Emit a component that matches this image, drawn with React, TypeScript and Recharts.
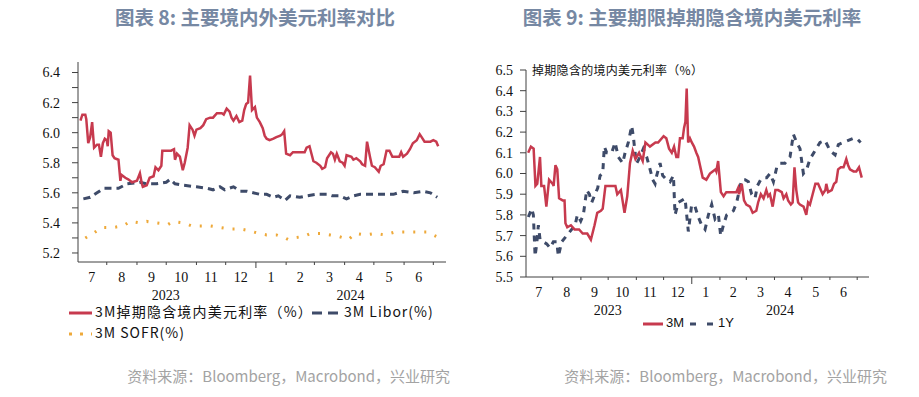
import React from 'react';
import { LineChart, Line, XAxis, YAxis } from 'recharts';

// x values are days since 2023-07-01
const leftRate3M: [number, number][] = [
  [4, 6.08], [6, 6.12], [9, 6.12], [10, 6.09], [12, 5.93], [14, 5.97], [16, 6.07], [18, 5.9], [21, 5.92], [23, 5.92],
  [25, 5.84], [27, 5.93], [29, 5.96], [31, 5.95], [32, 5.91], [33, 6.01], [35, 6.0], [37, 5.85], [39, 5.83], [43, 5.82],
  [45, 5.68], [46, 5.72], [50, 5.7], [53, 5.69], [57, 5.67], [62, 5.68], [65, 5.73], [67, 5.66], [68, 5.64], [72, 5.65],
  [75, 5.7], [79, 5.71], [81, 5.77], [84, 5.75], [87, 5.78], [88, 5.88], [92, 5.88], [97, 5.88], [100, 5.89], [101, 5.82],
  [103, 5.86], [106, 5.84], [109, 5.75], [111, 5.8], [114, 5.9], [116, 6.05], [119, 6.02], [121, 5.98], [123, 6.02], [127, 6.03],
  [130, 6.05], [133, 6.09], [137, 6.1], [140, 6.1], [144, 6.13], [149, 6.13], [151, 6.12], [154, 6.16], [157, 6.14], [159, 6.1],
  [161, 6.08], [164, 6.11], [167, 6.07], [170, 6.08], [172, 6.15], [174, 6.19], [176, 6.2], [178, 6.38], [180, 6.15], [183, 6.17],
  [185, 6.1], [188, 6.07], [191, 6.03], [193, 5.98], [195, 5.96], [198, 5.95], [202, 5.96], [205, 5.97], [209, 5.98], [211, 5.99],
  [213, 6.01], [215, 5.86], [219, 5.85], [222, 5.87], [229, 5.87], [234, 5.87], [236, 5.9], [239, 5.91], [241, 5.86], [243, 5.81],
  [246, 5.8], [250, 5.78], [252, 5.76], [255, 5.77], [257, 5.83], [261, 5.87], [263, 5.86], [265, 5.82], [267, 5.86], [270, 5.81],
  [273, 5.8], [275, 5.78], [277, 5.85], [282, 5.84], [284, 5.82], [287, 5.83], [291, 5.81], [293, 5.79], [296, 5.78], [298, 5.94],
  [301, 5.84], [303, 5.78], [306, 5.77], [310, 5.74], [312, 5.78], [315, 5.79], [318, 5.88], [321, 5.88], [324, 5.84], [328, 5.84],
  [331, 5.84], [333, 5.87], [335, 5.84], [339, 5.86], [342, 5.89], [345, 5.93], [349, 5.95], [352, 5.99], [354, 5.97], [357, 5.94],
  [363, 5.94], [366, 5.95], [369, 5.94], [371, 5.91],
];

const leftLibor3M: [number, number][] = [
  [7, 5.56], [14, 5.57], [21, 5.6], [28, 5.63], [36, 5.63], [43, 5.63], [52, 5.66], [65, 5.67], [72, 5.66], [82, 5.66],
  [92, 5.67], [96, 5.69], [101, 5.66], [110, 5.65], [123, 5.64], [134, 5.63], [140, 5.62], [147, 5.64], [152, 5.62], [161, 5.64],
  [168, 5.61], [175, 5.61], [188, 5.59], [195, 5.59], [202, 5.57], [207, 5.58], [214, 5.55], [219, 5.58], [229, 5.57], [236, 5.58],
  [246, 5.59], [257, 5.59], [262, 5.58], [270, 5.58], [277, 5.56], [284, 5.58], [291, 5.59], [304, 5.59], [318, 5.59], [325, 5.59],
  [335, 5.61], [346, 5.6], [356, 5.61], [363, 5.6], [370, 5.57],
];

const leftSofr3M: [number, number][] = [
  [9, 5.3], [17, 5.33], [26, 5.37], [38, 5.37], [48, 5.38], [55, 5.41], [65, 5.4], [72, 5.41], [82, 5.4], [94, 5.39],
  [99, 5.41], [110, 5.4], [118, 5.38], [127, 5.38], [137, 5.38], [147, 5.37], [157, 5.36], [168, 5.36], [176, 5.35], [187, 5.33],
  [195, 5.32], [205, 5.32], [214, 5.3], [217, 5.29], [222, 5.3], [233, 5.31], [240, 5.33], [250, 5.33], [260, 5.32], [269, 5.31],
  [279, 5.29], [286, 5.33], [296, 5.32], [306, 5.33], [316, 5.32], [327, 5.34], [337, 5.34], [349, 5.34], [359, 5.34], [369, 5.31],
];

const rightRate3M: [number, number][] = [
  [4, 6.1], [7, 6.13], [10, 6.12], [12, 5.94], [14, 5.95], [17, 6.08], [18.5, 5.94], [21.5, 5.94], [24, 5.84], [27, 5.97],
  [31, 5.95], [32, 5.94], [34, 6.04], [36, 6.02], [38, 5.88], [42, 5.87], [44, 5.87], [45, 5.76], [47, 5.74], [51, 5.75],
  [55, 5.73], [60, 5.73], [64, 5.71], [69, 5.71], [73, 5.68], [77, 5.75], [80, 5.81], [84, 5.82], [86, 5.83], [89, 5.94],
  [95, 5.94], [100, 5.94], [102, 5.9], [106, 5.92], [110, 5.81], [113, 5.89], [116, 6.05], [119, 6.11], [122, 6.07], [126, 6.1],
  [130, 6.06], [133, 6.15], [138, 6.13], [144, 6.15], [147, 6.15], [153, 6.18], [156, 6.17], [159, 6.12], [162, 6.1], [164.5, 6.13],
  [167, 6.08], [169, 6.08], [171, 6.17], [174, 6.17], [175.5, 6.22], [177, 6.25], [178.4, 6.41], [180, 6.15], [182, 6.17], [184, 6.15],
  [186.5, 6.13], [189, 6.1], [191, 6.08], [194, 6.02], [196, 5.98], [200, 5.97], [204, 6.0], [207, 6.01], [210, 6.02], [211, 6.01],
  [213, 6.06], [216, 5.91], [219, 5.89], [222, 5.91], [230, 5.91], [233, 5.91], [235, 5.93], [236, 5.9], [239, 5.95], [241.5, 5.87],
  [244, 5.85], [248, 5.84], [251, 5.81], [255, 5.82], [257, 5.86], [260, 5.9], [263, 5.88], [266, 5.92], [268, 5.89], [270, 5.9],
  [273, 5.84], [276, 5.92], [279, 5.92], [283, 5.91], [285, 5.88], [288, 5.9], [290, 5.87], [293, 5.85], [295, 5.86], [297, 6.03],
  [299, 5.92], [301, 5.86], [303, 5.85], [307, 5.84], [310, 5.8], [312, 5.86], [314, 5.85], [317, 5.9], [320, 5.95], [323, 5.95],
  [326, 5.92], [328, 5.9], [331, 5.92], [332, 5.95], [334, 5.91], [338, 5.92], [340.5, 5.95], [343, 5.96], [345, 6.02], [348, 6.03],
  [351, 6.03], [354, 6.07], [356, 6.04], [358, 6.02], [362, 6.01], [365, 6.01], [368, 6.03], [371, 5.98],
];

const rightRate1Y: [number, number][] = [
  [4.2, 5.79], [7.9, 5.83], [9.7, 5.8], [11.6, 5.6], [13.4, 5.66], [15.2, 5.75], [17.1, 5.68], [20.7, 5.67], [24.4, 5.66], [28.1, 5.64],
  [31.7, 5.67], [35.4, 5.67], [37.2, 5.6], [40.9, 5.67], [44.6, 5.69], [48.2, 5.71], [51.9, 5.73], [55.6, 5.75], [58.1, 5.8], [61.8, 5.77],
  [64.7, 5.8], [68.4, 5.92], [71.3, 5.9], [73.9, 5.86], [77.6, 5.9], [80.5, 5.93], [83.1, 5.99], [86, 6.0], [87.8, 6.13], [90.4, 6.1],
  [95.9, 6.1], [99.6, 6.15], [103.2, 6.08], [108, 6.05], [110.6, 6.1], [114.2, 6.15], [117.9, 6.23], [119.7, 6.18], [121.6, 6.1], [123.4, 6.05],
  [127.1, 6.08], [130.7, 6.12], [134.4, 6.08], [138.1, 6.02], [141, 5.97], [143.6, 5.95], [145.4, 5.99], [149.1, 6.05], [152, 5.99], [156.4, 5.97],
  [160.1, 5.96], [163.8, 5.99], [165.6, 5.8], [169.2, 5.86], [172.9, 5.87], [176.6, 5.88], [180.2, 5.72], [183.9, 5.85], [187.6, 5.84], [191.2, 5.79],
  [194.9, 5.75], [198.6, 5.73], [202.3, 5.8], [205.9, 5.85], [209.6, 5.78], [213.3, 5.8], [215.8, 5.7], [218.8, 5.75], [222.4, 5.8], [226.1, 5.81],
  [229.8, 5.82], [233.4, 5.86], [236.4, 5.92], [238.9, 5.97], [242.6, 5.97], [246.3, 5.96], [249.9, 5.9], [253.6, 5.88], [256.2, 5.94], [259.8, 5.97],
  [262.8, 5.98], [266.4, 5.98], [270.1, 6.0], [273.8, 5.96], [277.5, 6.03], [281.1, 6.05], [286.6, 6.05], [292.1, 6.08], [295.8, 6.19], [299.4, 6.15],
  [303.1, 6.12], [306.8, 6.0], [310.4, 6.02], [314.1, 6.07], [319.6, 6.11], [325.1, 6.15], [330.6, 6.16], [336.2, 6.11], [341.7, 6.09], [345.3, 6.14],
  [350.8, 6.15], [356.3, 6.16], [361.8, 6.17], [365.4, 6.17], [369.8, 6.15],
];

const monthStartDays = [31, 62, 92, 123, 153, 184, 215, 244, 275, 305, 336, 366];
const yearStartDay = 184;
const monthLabels = ['7', '8', '9', '10', '11', '12', '1', '2', '3', '4', '5', '6'];
const monthMidDays = [15.5, 46.5, 77, 107.5, 138, 168.5, 199.5, 229.5, 259.5, 290, 320.5, 351];
const yearLabels = ['2023', '2024'];
const yearMidDays = [91.5, 281];

const leftYTicks = [5.2, 5.3, 5.4, 5.5, 5.6, 5.7, 5.8, 5.9, 6.0, 6.1, 6.2, 6.3, 6.4];
const rightYTicks = [5.5, 5.6, 5.7, 5.8, 5.9, 6.0, 6.1, 6.2, 6.3, 6.4, 6.5];

const leftSeriesNames = ['3M掉期隐含境内美元利率（%）', '3M Libor(%)', '3M SOFR(%)'];
const rightSeriesNames = ['3M', '1Y'];
const rightAxisTitle = '掉期隐含的境内美元利率（%）';
const leftTitle = '图表 8: 主要境内外美元利率对比';
const rightTitle = '图表 9: 主要期限掉期隐含境内美元利率';
const sourceText = '资料来源：Bloomberg，Macrobond，兴业研究';

const RED = '#c73a4e';
const NAVY = '#3e4b69';
const ORANGE = '#eea93a';
const AXIS = '#404040';
const TITLE = '#7688a3';
const SERIF = '"Liberation Serif", "Times New Roman", serif';
const CJK = '"Noto Sans CJK SC", "Noto Sans", sans-serif';

const toData = (arr: [number, number][]) => arr.map(([t, v]) => ({ t, v }));
const xTicks = [...monthStartDays, ...monthMidDays, ...yearMidDays].sort((a, b) => a - b);

const makeTick = (shortLen: number, longLen: number) => (props: any) => {
  const { x, y, payload } = props;
  const v = payload.value;
  const mi = monthMidDays.indexOf(v);
  if (mi >= 0) {
    return (
      <text x={x} y={y + 15} textAnchor="middle" dominantBaseline="central" fontFamily={SERIF} fontSize={14} fill="#111">
        {monthLabels[mi]}
      </text>
    );
  }
  const yi = yearMidDays.indexOf(v);
  if (yi >= 0) {
    return (
      <text x={x} y={y + 33} textAnchor="middle" dominantBaseline="central" fontFamily={SERIF} fontSize={14} fill="#111">
        {yearLabels[yi]}
      </text>
    );
  }
  const len = v === yearStartDay ? longLen : shortLen;
  return <line x1={x} x2={x} y1={y} y2={y + len} stroke={AXIS} strokeWidth={1} />;
};

const yTickStyle = { fontFamily: SERIF, fontSize: 14, fill: '#111' };

const Swatch = ({ color, dash, width = 24, sw = 3 }: { color: string; dash?: string; width?: number; sw?: number }) => (
  <svg width={width} height={8} style={{ display: 'inline-block', verticalAlign: 'middle' }}>
    <line x1={0} x2={width} y1={4} y2={4} stroke={color} strokeWidth={sw} strokeDasharray={dash} />
  </svg>
);

export default function App() {
  return (
    <div style={{ position: 'absolute', left: 0, top: 0, width: 919, height: 397, background: '#fff', overflow: 'hidden' }}>
      {/* titles */}
      <div style={{ position: 'absolute', left: 0, width: 510, top: 4, textAlign: 'center', fontFamily: CJK, fontWeight: 700, fontSize: 19.5, color: TITLE, lineHeight: '26px' }}>
        {leftTitle}
      </div>
      <div style={{ position: 'absolute', left: 460, width: 464, top: 4, textAlign: 'center', fontFamily: CJK, fontWeight: 700, fontSize: 19.5, color: TITLE, lineHeight: '26px' }}>
        {rightTitle}
      </div>

      {/* left chart */}
      <div style={{ position: 'absolute', left: 0, top: 0 }}>
        <LineChart width={460} height={312} margin={{ top: 62, right: 14, bottom: 0, left: 0 }}>
          <XAxis
            dataKey="t"
            type="number"
            domain={[1.5, 379]}
            ticks={xTicks}
            interval={0}
            tickSize={0}
            tickMargin={0}
            tickLine={false}
            height={50}
            axisLine={{ stroke: AXIS }}
            tick={makeTick(3, 6)}
            allowDataOverflow
          />
          <YAxis
            type="number"
            domain={[5.14, 6.47]}
            ticks={leftYTicks}
            interval={0}
            width={78}
            tickSize={6}
            tickMargin={12}
            axisLine={{ stroke: AXIS }}
            tickLine={{ stroke: AXIS }}
            tick={yTickStyle}
            tickFormatter={(v: number) => (Math.round(v * 10) % 2 === 0 ? v.toFixed(1) : '')}
            allowDataOverflow
          />
          <Line data={toData(leftSofr3M)} dataKey="v" name={leftSeriesNames[2]} stroke={ORANGE} strokeWidth={3} strokeDasharray="2 9" dot={false} isAnimationActive={false} />
          <Line data={toData(leftLibor3M)} dataKey="v" name={leftSeriesNames[1]} stroke={NAVY} strokeWidth={3} strokeDasharray="7 5" dot={false} isAnimationActive={false} />
          <Line data={toData(leftRate3M)} dataKey="v" name={leftSeriesNames[0]} stroke={RED} strokeWidth={2.5} dot={false} isAnimationActive={false} />
        </LineChart>
      </div>

      {/* right chart */}
      <div style={{ position: 'absolute', left: 460, top: 0 }}>
        <LineChart width={459} height={322} margin={{ top: 70, right: 50, bottom: 0, left: 0 }}>
          <XAxis
            dataKey="t"
            type="number"
            domain={[1.6, 379]}
            ticks={xTicks}
            interval={0}
            tickSize={0}
            tickMargin={0}
            tickLine={false}
            height={45}
            axisLine={{ stroke: AXIS }}
            tick={makeTick(3, 7)}
            allowDataOverflow
          />
          <YAxis
            type="number"
            domain={[5.5, 6.5]}
            ticks={rightYTicks}
            interval={0}
            width={66}
            tickSize={6}
            tickMargin={7}
            axisLine={{ stroke: AXIS }}
            tickLine={{ stroke: AXIS }}
            tick={yTickStyle}
            tickFormatter={(v: number) => v.toFixed(1)}
            allowDataOverflow
          />
          <Line data={toData(rightRate1Y)} dataKey="v" name={rightSeriesNames[1]} stroke={NAVY} strokeWidth={3} strokeDasharray="6 6" dot={false} isAnimationActive={false} />
          <Line data={toData(rightRate3M)} dataKey="v" name={rightSeriesNames[0]} stroke={RED} strokeWidth={2.5} dot={false} isAnimationActive={false} />
        </LineChart>
      </div>

      {/* right axis title */}
      <div style={{ position: 'absolute', left: 532, top: 62, fontFamily: CJK, fontSize: 12, color: '#111', lineHeight: '16px', whiteSpace: 'nowrap', letterSpacing: '0.3px' }}>
        {rightAxisTitle}
      </div>

      {/* left legend */}
      <div style={{ position: 'absolute', left: 69, top: 302, fontFamily: CJK, fontSize: 14, color: '#111', lineHeight: '18px', whiteSpace: 'nowrap' }}>
        <Swatch color={RED} width={23} />
        <span style={{ marginLeft: 3, letterSpacing: '1.2px' }}>{leftSeriesNames[0]}</span>
      </div>
      <div style={{ position: 'absolute', left: 312, top: 302, fontFamily: CJK, fontSize: 14, color: '#111', lineHeight: '18px', whiteSpace: 'nowrap' }}>
        <Swatch color={NAVY} dash="10 6" width={28} />
        <span style={{ marginLeft: 4, letterSpacing: '1px' }}>{leftSeriesNames[1]}</span>
      </div>
      <div style={{ position: 'absolute', left: 69, top: 323, fontFamily: CJK, fontSize: 14, color: '#111', lineHeight: '18px', whiteSpace: 'nowrap' }}>
        <Swatch color={ORANGE} dash="3 8" width={23} />
        <span style={{ marginLeft: 3, letterSpacing: '1px' }}>{leftSeriesNames[2]}</span>
      </div>

      {/* right legend */}
      <div style={{ position: 'absolute', left: 643, top: 314, fontFamily: '"Liberation Sans", Arial, sans-serif', fontSize: 13, color: '#111', lineHeight: '18px', whiteSpace: 'nowrap' }}>
        <Swatch color={RED} width={20} />
        <span style={{ marginLeft: 3 }}>{rightSeriesNames[0]}</span>
        <span style={{ marginLeft: 6 }}>
          <Swatch color={NAVY} dash="6 11" width={24} />
        </span>
        <span style={{ marginLeft: 4 }}>{rightSeriesNames[1]}</span>
      </div>

      {/* sources */}
      <div style={{ position: 'absolute', right: 919 - 450, top: 365, fontFamily: CJK, fontSize: 15, color: '#a3a3a3', lineHeight: '22px', whiteSpace: 'nowrap' }}>
        {sourceText}
      </div>
      <div style={{ position: 'absolute', right: 919 - 887, top: 365, fontFamily: CJK, fontSize: 15, color: '#a3a3a3', lineHeight: '22px', whiteSpace: 'nowrap' }}>
        {sourceText}
      </div>
    </div>
  );
}
